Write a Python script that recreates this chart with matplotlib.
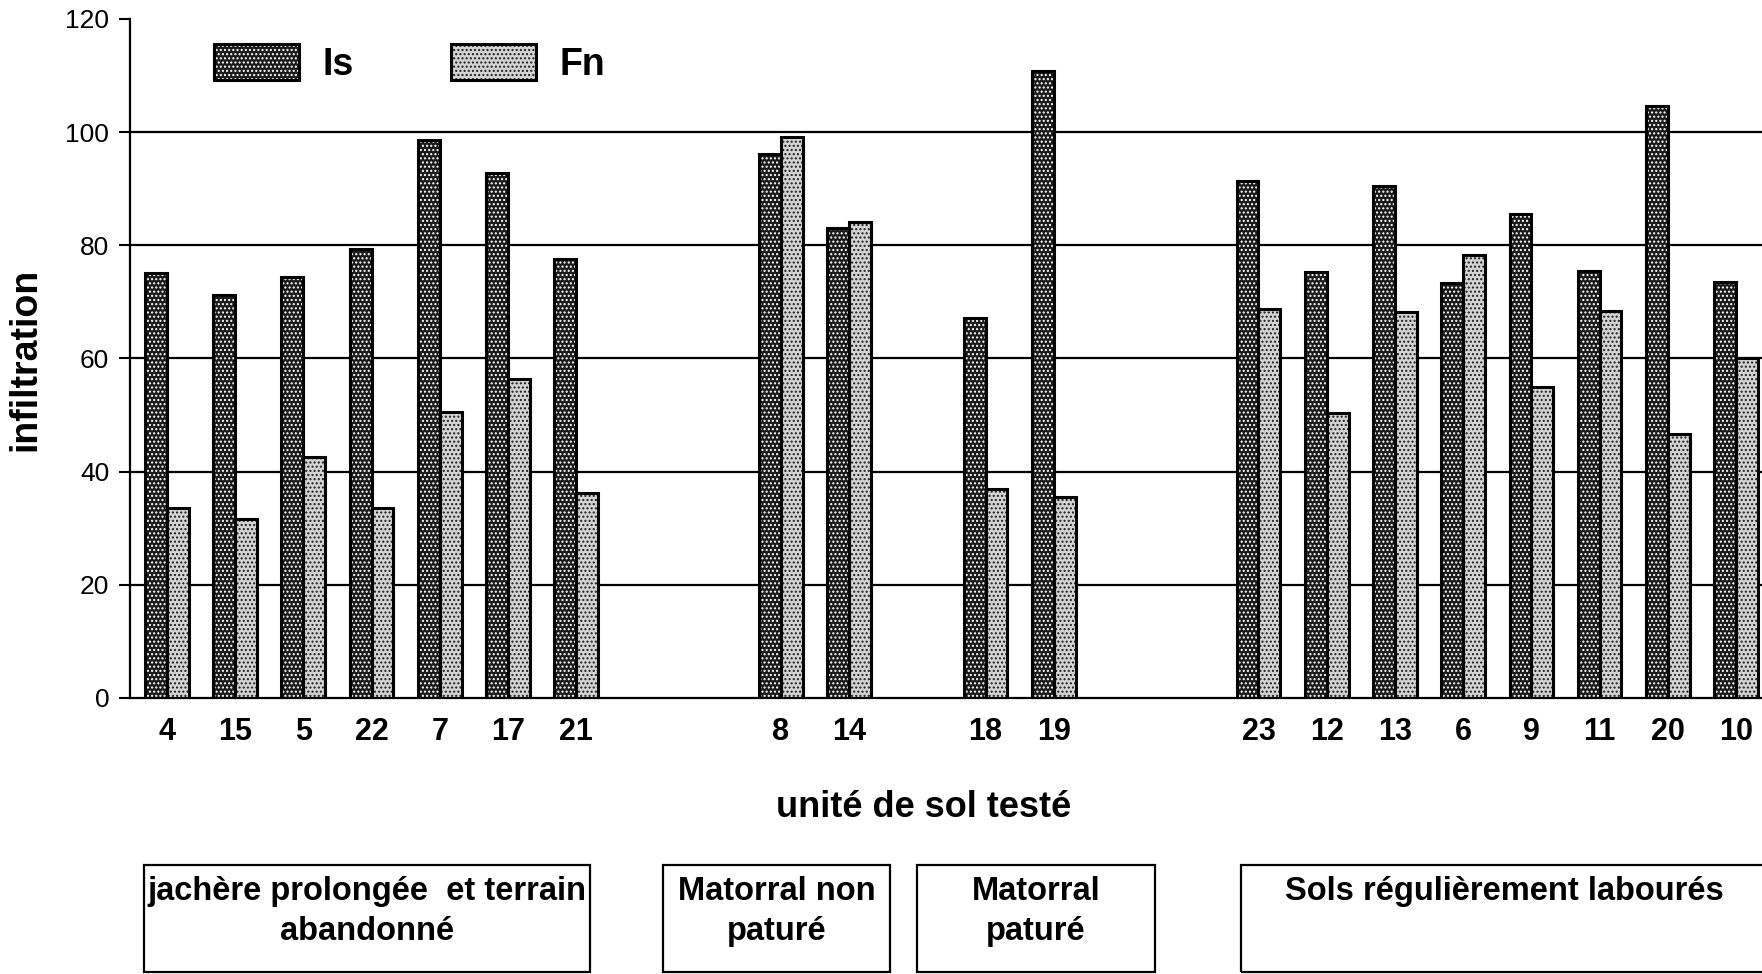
import matplotlib.pyplot as plt
import matplotlib.transforms as mtransforms
from matplotlib.patches import Patch, Rectangle
from matplotlib.legend_handler import HandlerTuple

plt.rcParams['font.family'] = ['Liberation Sans', 'DejaVu Sans']
plt.rcParams['hatch.linewidth'] = 1.0

# soil units, in plotting order, and their slot on the x axis (gaps between land uses)
units = ['4', '15', '5', '22', '7', '17', '21', '8', '14', '18', '19',
         '23', '12', '13', '6', '9', '11', '20', '10']
slots = [0, 1, 2, 3, 4, 5, 6, 9, 10, 12, 13, 16, 17, 18, 19, 20, 21, 22, 23]
i_s = [75.1, 71.2, 74.4, 79.4, 98.6, 92.7, 77.6, 96.2, 83.1, 67.2, 110.8,
       91.3, 75.2, 90.4, 73.3, 85.5, 75.4, 104.6, 73.5]
f_n = [33.5, 31.7, 42.5, 33.6, 50.5, 56.4, 36.2, 99.2, 84.1, 37.0, 35.5,
       68.7, 50.3, 68.3, 78.3, 54.9, 68.4, 46.6, 60.0]

# land-use groups shown in boxes under the axis
groups = ['jachère prolongée  et terrain\nabandonné', 'Matorral non\npaturé',
          'Matorral\npaturé', 'Sols régulièrement labourés\n ']
group_spans = [(-0.34, 6.2), (7.27, 10.6), (10.99, 14.49), (15.75, 23.45)]

fig = plt.figure(figsize=(17.62, 9.74), dpi=100)
ax = fig.add_axes([0.0738, 0.2834, 0.9262, 0.6971])

w = 0.32
xs_is = [s - w / 2 for s in slots]
xs_fn = [s + w / 2 for s in slots]

is_style = dict(facecolor='#1a1a1a', edgecolor='white', hatch='....', linewidth=0)
fn_style = dict(facecolor='#d4d4d4', edgecolor='#1e1e1e', hatch='....', linewidth=0)

ax.bar(xs_is, i_s, w, zorder=3, **is_style)
ax.bar(xs_is, i_s, w, fill=False, edgecolor='black', linewidth=2.2, zorder=4)
ax.bar(xs_fn, f_n, w, zorder=3, **fn_style)
ax.bar(xs_fn, f_n, w, fill=False, edgecolor='black', linewidth=2.2, zorder=4)

ax.set_xlim(-0.54, 23.38)
ax.set_ylim(0, 120)
ax.set_yticks([0, 20, 40, 60, 80, 100, 120])
ax.set_xticks(slots)
ax.set_xticklabels(units, fontsize=22, fontweight='bold')
ax.tick_params(axis='x', length=0, pad=14)
ax.tick_params(axis='y', labelsize=19, length=8, width=1.5, pad=7)

for v in [20, 40, 60, 80, 100]:
    ax.axhline(v, color='black', linewidth=1.6, zorder=1)

ax.spines['top'].set_visible(False)
ax.spines['right'].set_visible(False)
ax.spines['left'].set_linewidth(1.6)
ax.spines['bottom'].set_linewidth(1.6)

ax.set_xlabel('unité de sol testé', fontsize=26, fontweight='bold')
ax.xaxis.set_label_coords(0.4865, -0.135)
ax.set_ylabel('infiltration', fontsize=27, fontweight='bold')
ax.yaxis.set_label_coords(-0.053, 0.498)

outline = dict(fill=False, edgecolor='black', linewidth=2.2)
h_is = (Patch(**is_style), Patch(**outline))
h_fn = (Patch(**fn_style), Patch(**outline))
ax.legend([h_is, h_fn], ['Is', 'Fn'], handler_map={tuple: HandlerTuple(ndivide=1, pad=0)},
          loc='center left', bbox_to_anchor=(0.040, 0.935), ncol=2, frameon=False,
          borderpad=0, handlelength=2.27, handleheight=1.1, handletextpad=0.62,
          columnspacing=2.6, prop={'size': 27, 'weight': 'bold'})

# group boxes: x in data units, y in figure fraction
trans = mtransforms.blended_transform_factory(ax.transData, fig.transFigure)
box_top, box_bottom = 1 - 865 / 974, 1 - 972 / 974
for label, (x0, x1) in zip(groups, group_spans):
    fig.add_artist(Rectangle((x0, box_bottom), x1 - x0, box_top - box_bottom,
                             transform=trans, fill=False, edgecolor='black',
                             linewidth=1.6, clip_on=False))
    fig.text((x0 + x1) / 2, box_top - 0.011, label, transform=trans, ha='center', va='top',
             fontsize=23.5, fontweight='bold', linespacing=1.38)

fig.savefig('out.png', dpi=100)
